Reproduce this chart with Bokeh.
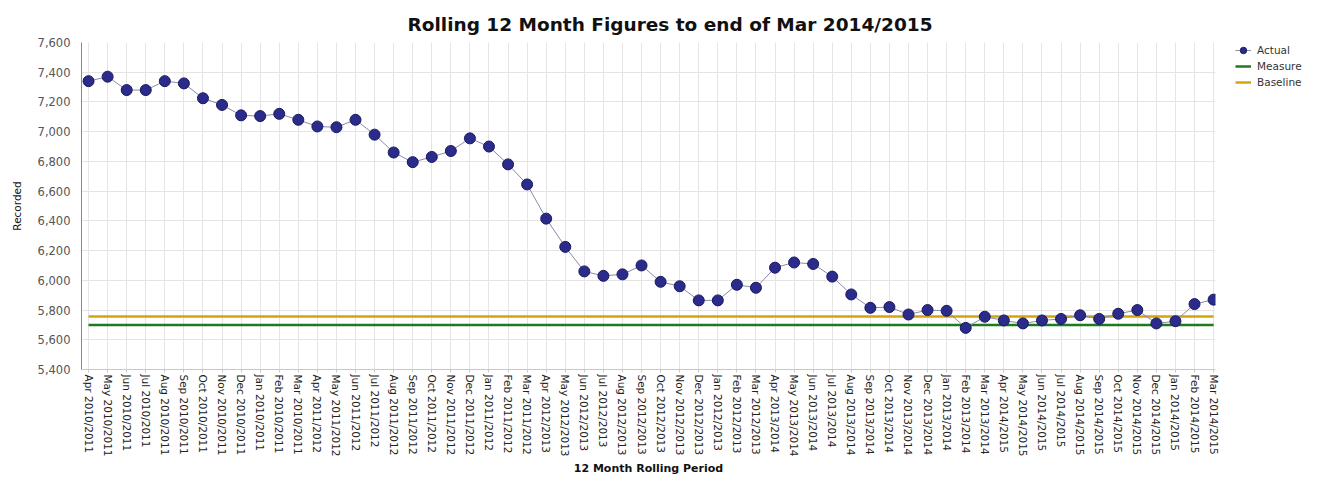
from bokeh.plotting import figure
from bokeh.layouts import row
from bokeh.models import (FixedTicker, NumeralTickFormatter, Range1d, Legend,
                          LegendItem, ColumnDataSource)
from bokeh.embed import file_html
from bokeh.resources import INLINE

months = ["Apr", "May", "Jun", "Jul", "Aug", "Sep", "Oct", "Nov", "Dec",
          "Jan", "Feb", "Mar"]
years = ["2010/2011", "2011/2012", "2012/2013", "2013/2014", "2014/2015"]
periods = [f"{m} {y}" for y in years for m in months]

actual = [7340, 7370, 7280, 7280, 7340, 7325, 7225, 7180, 7110, 7105, 7120, 7080,
          7035, 7030, 7080, 6980, 6860, 6795, 6830, 6870, 6955, 6900, 6780, 6645,
          6415, 6225, 6060, 6030, 6040, 6100, 5990, 5960, 5865, 5865, 5970, 5950,
          6085, 6120, 6110, 6025, 5905, 5815, 5820, 5770, 5800, 5795, 5680, 5755,
          5730, 5710, 5730, 5740, 5765, 5740, 5775, 5800, 5710, 5725, 5840, 5870]
measure_value = 5700
baseline_value = 5757

y_ticks = [5400, 5600, 5800, 6000, 6200, 6400, 6600, 6800, 7000, 7200, 7400, 7600]

ACTUAL_FILL = "#2b2b8c"
ACTUAL_EDGE = "#1a1a5c"
ACTUAL_LINE = "#8a8aa8"
MEASURE_COL = "#1f7a1f"
BASELINE_COL = "#d4a40c"

idx = list(range(len(periods)))
src = ColumnDataSource(dict(x=idx, y=actual,
                            m=[measure_value] * len(idx),
                            b=[baseline_value] * len(idx)))

H = 481
ML, MT, MR, MB = 81, 42, 7, 112
W = 1222
p = figure(width=W, height=H, output_backend="svg", toolbar_location=None,
           x_range=Range1d(-0.37, 59.1), y_range=Range1d(5400, 7600),
           min_border_left=ML, min_border_top=MT, min_border_right=MR,
           min_border_bottom=MB)

p.title.text = "Rolling 12 Month Figures to end of Mar 2014/2015"
p.title.align = "left"
p.title.offset = 326
p.title.text_font = "DejaVu Sans"
p.title.text_font_size = "18.5px"
p.title.text_font_style = "bold"
p.title.text_color = "#111111"
p.title.standoff = 16

p.outline_line_color = None
p.background_fill_color = "white"

p.line("x", "m", source=src, line_color=MEASURE_COL, line_width=2.5)
p.line("x", "b", source=src, line_color=BASELINE_COL, line_width=2.5)
p.line("x", "y", source=src, line_color=ACTUAL_LINE, line_width=1)
p.scatter("x", "y", source=src, size=11, fill_color=ACTUAL_FILL,
          line_color=ACTUAL_EDGE, line_width=1)

xa = p.xaxis[0]
xa.ticker = FixedTicker(ticks=idx)
xa.major_label_overrides = {i: s for i, s in enumerate(periods)}
xa.major_label_orientation = "vertical"
xa.major_label_text_font = "DejaVu Sans"
xa.major_label_text_font_size = "10.5px"
xa.major_label_text_color = "#222222"
xa.major_label_standoff = 2
xa.axis_label = "12 Month Rolling Period"
xa.axis_label_text_font = "DejaVu Sans"
xa.axis_label_text_font_size = "11px"
xa.axis_label_text_font_style = "bold"
xa.axis_label_text_color = "#111111"
xa.axis_label_standoff = 2
xa.axis_line_color = "#c8c8c8"
xa.major_tick_line_color = "#c8c8c8"
xa.major_tick_out = 3
xa.major_tick_in = 0
xa.minor_tick_line_color = None

ya = p.yaxis[0]
ya.ticker = FixedTicker(ticks=y_ticks)
ya.formatter = NumeralTickFormatter(format="0,0")
ya.major_label_text_font = "DejaVu Sans"
ya.major_label_text_font_size = "11.5px"
ya.major_label_text_color = "#555555"
ya.axis_label = "Recorded"
ya.axis_label_text_font = "DejaVu Sans"
ya.axis_label_text_font_size = "10.5px"
ya.axis_label_text_font_style = "normal"
ya.axis_label_text_color = "#111111"
ya.axis_label_standoff = 12
ya.axis_line_color = "#888888"
ya.major_tick_line_color = None
ya.minor_tick_line_color = None

p.xgrid.grid_line_color = "#e4e4e4"
p.ygrid.grid_line_color = "#e4e4e4"

# legend panel to the right of the plot
nan = float("nan")
lg = figure(width=1315 - W, height=H, output_backend="svg", toolbar_location=None,
            x_range=Range1d(0, 1), y_range=Range1d(0, 1),
            min_border_left=13, min_border_top=38, min_border_right=0,
            min_border_bottom=0)
lg.axis.visible = False
lg.grid.visible = False
lg.outline_line_color = None
la = lg.line(x=[nan], y=[nan], line_color=ACTUAL_LINE, line_width=1)
lc = lg.scatter(x=[nan], y=[nan], size=11, fill_color=ACTUAL_FILL,
                line_color=ACTUAL_EDGE, line_width=1)
lm = lg.line(x=[nan], y=[nan], line_color=MEASURE_COL, line_width=2.5)
lb = lg.line(x=[nan], y=[nan], line_color=BASELINE_COL, line_width=2.5)

legend = Legend(items=[
    LegendItem(label="Actual", renderers=[la, lc]),
    LegendItem(label="Measure", renderers=[lm]),
    LegendItem(label="Baseline", renderers=[lb]),
], location="top_left")
legend.label_text_font = "DejaVu Sans"
legend.label_text_font_size = "10.5px"
legend.label_text_color = "#333333"
legend.border_line_color = None
legend.background_fill_alpha = 0
legend.glyph_width = 16
legend.glyph_height = 16
legend.label_height = 16
legend.spacing = 0
legend.padding = 0
legend.margin = 0
legend.label_standoff = 6
lg.add_layout(legend, "center")

layout = row(p, lg, spacing=0)
open("out.html", "w").write(file_html(layout, INLINE))
